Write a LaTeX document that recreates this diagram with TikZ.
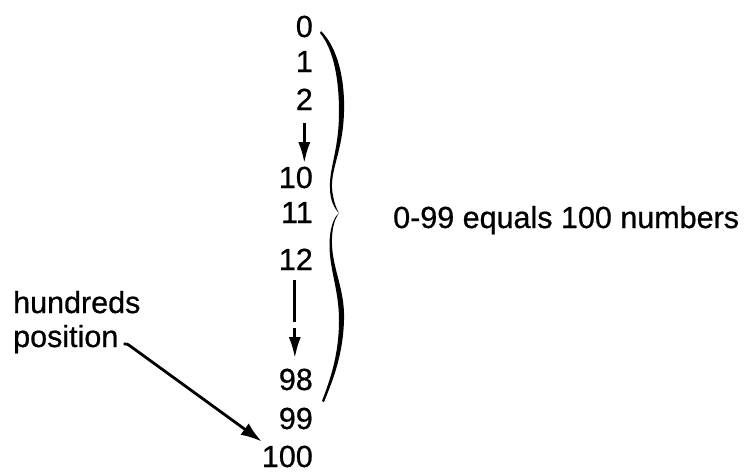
\documentclass[tikz,border=0pt]{standalone}
\usepackage{fontspec}
\setmainfont{Liberation Sans}[BoldFont={Liberation Sans},BoldFeatures={FakeBold=0.7}]
\usetikzlibrary{arrows.meta,calc}
\tikzset{
  num/.style={anchor=base east, inner sep=0pt, font=\fontsize{30.5}{36}\selectfont\bfseries},
  lbl/.style={anchor=base west, inner sep=0pt, font=\fontsize{30.5}{36}\selectfont\bfseries},
  arr/.style={line width=2.8pt, -{Latex[length=21pt,width=12pt]}},
  dasharr/.style={arr, dash pattern=on 42pt off 6pt},
  brace/.style={fill=black}
}
\begin{document}
\begin{tikzpicture}[x=1pt,y=-1pt]
\useasboundingbox (0,0) rectangle (745,474);
% numbers
\node[num] (n0) at (313,37) {0};
\node[num] (n1) at (313,72) {1};
\node[num] (n2) at (313,110) {2};
\node[num] (n10) at (313,188) {10};
\node[num] (n11) at (313,223) {11};
\node[num] (n12) at (313,270) {12};
\node[num] (n98) at (313,390) {98};
\node[num] (n99) at (313,429) {99};
\node[num] (n100) at (313,467) {100};
% labels
\node[lbl] (eq) at (393,228) {0-99 equals 100 numbers};
\node[lbl] (hun) at (13,313) {hundreds};
\node[lbl] (pos) at (13,347) {position};
% arrows in the column
\coordinate (a1s) at ($(n2.south)+(0,13)$);
\coordinate (a1e) at ($(n2.south)+(0,53)$);
\draw[arr] (a1s) -- (a1e);
\coordinate (a2s) at ($(n12.south)+(-1,10)$);
\coordinate (a2e) at ($(n12.south)+(-1,88)$);
\draw[dasharr] (a2s) -- (a2e);
% brace, upper half
\fill[brace] (321,31) .. controls (338,48) and (345,80) .. (344,112)
  .. controls (343,150) and (331,168) .. (332,188)
  .. controls (333,200) and (336,208) .. (339,213)
  .. controls (334,208) and (330,200) .. (330,188)
  .. controls (329,168) and (339,150) .. (339,112)
  .. controls (339,80) and (334,50) .. (320,33) -- cycle;
% brace, lower half
\fill[brace] (339,213) .. controls (334,220) and (331.5,230) .. (332,245)
  .. controls (333,270) and (345,290) .. (344,320)
  .. controls (343,355) and (333,380) .. (324,402)
  -- (322,401)
  .. controls (330,380) and (339,355) .. (339,320)
  .. controls (339,290) and (329.5,270) .. (329.5,245)
  .. controls (329.5,230) and (333,218) .. (339,213) -- cycle;
% hundreds position arrow
\coordinate (hs) at ($(pos.base east)+(5,-3)$);
\coordinate (hk) at ($(hs)+(8,3)$);
\coordinate (ht) at ($(n100.north west)+(0,-4)$);
\draw[arr, -{Latex[length=21pt,width=14pt]}] (hs) .. controls ($(hs)+(4,0)$) .. (hk) -- (ht);
\end{tikzpicture}
\end{document}
